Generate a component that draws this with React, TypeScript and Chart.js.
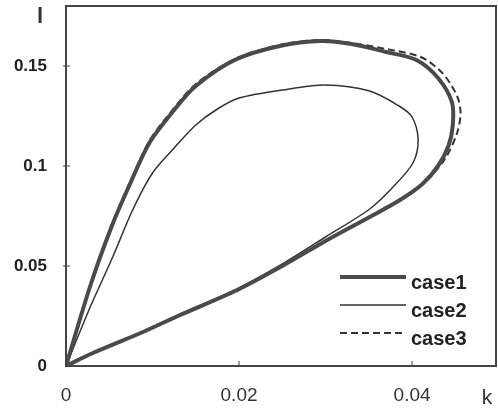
import React, { useEffect, useRef } from "react";
import { Chart, registerables } from "chart.js";

Chart.register(...registerables);

// ---- data ----
const xTicks = [0, 0.02, 0.04];
const xTickLabels = ["0", "0.02", "0.04"];
const yTicks = [0, 0.05, 0.1, 0.15];
const yTickLabels = ["0", "0.05", "0.1", "0.15"];
const xTitle = "k";
const yTitle = "l";
const seriesNames = ["case1", "case2", "case3"];

const case1K = [0, 0.0028, 0.0053, 0.0075, 0.0097, 0.0125, 0.015, 0.0195, 0.0247, 0.0295, 0.033, 0.037, 0.0405, 0.043, 0.0446, 0.0447, 0.0442, 0.043, 0.0412, 0.0386, 0.0351, 0.0302, 0.025, 0.0198, 0.0132, 0.0089, 0.0031, 0];
const case1L = [0, 0.04, 0.07, 0.092, 0.112, 0.128, 0.14, 0.153, 0.16, 0.1625, 0.161, 0.157, 0.153, 0.144, 0.132, 0.12, 0.11, 0.1, 0.091, 0.083, 0.0745, 0.063, 0.05, 0.038, 0.0255, 0.017, 0.0065, 0];

const case2K = [0, 0.0028, 0.0054, 0.0077, 0.01, 0.0125, 0.015, 0.0175, 0.02, 0.025, 0.03, 0.0351, 0.0385, 0.04, 0.0407, 0.0401, 0.0378, 0.0351, 0.03, 0.025, 0.0198, 0.0132, 0.0089, 0.0031, 0];
const case2L = [0, 0.0295, 0.0545, 0.078, 0.0965, 0.109, 0.1205, 0.1285, 0.134, 0.138, 0.1405, 0.1375, 0.13, 0.1245, 0.113, 0.1015, 0.0895, 0.0785, 0.0645, 0.051, 0.0385, 0.026, 0.0172, 0.0066, 0];

const case3K = [0, 0.0028, 0.0053, 0.0075, 0.0097, 0.0125, 0.015, 0.0195, 0.0247, 0.0295, 0.033, 0.037, 0.041, 0.0435, 0.0452, 0.0456, 0.0452, 0.0438, 0.0415, 0.0386, 0.0351, 0.0302, 0.025, 0.0198, 0.0132, 0.0089, 0.0031, 0];
const case3L = [0, 0.0405, 0.071, 0.093, 0.113, 0.129, 0.141, 0.1535, 0.1605, 0.163, 0.1615, 0.1585, 0.1545, 0.1465, 0.135, 0.1265, 0.1165, 0.1035, 0.092, 0.083, 0.0745, 0.063, 0.05, 0.038, 0.0255, 0.017, 0.0065, 0];

const toPoints = (xs: number[], ys: number[]) => xs.map((x, i) => ({ x, y: ys[i] }));

const decorPlugin = {
  id: "decor",
  afterDraw(chart: any) {
    const { ctx, chartArea, scales } = chart;
    const { left, right, top, bottom } = chartArea;
    ctx.save();
    // frame
    ctx.strokeStyle = "#444";
    ctx.lineWidth = 2;
    ctx.setLineDash([]);
    ctx.strokeRect(left, top, right - left, bottom - top);
    // inward ticks
    ctx.lineWidth = 1;
    yTicks.forEach((v) => {
      if (v === 0) return;
      const y = scales.y.getPixelForValue(v);
      ctx.beginPath();
      ctx.moveTo(left - 3, y);
      ctx.lineTo(left + 4, y);
      ctx.stroke();
    });
    xTicks.forEach((v) => {
      if (v === 0) return;
      const x = scales.x.getPixelForValue(v);
      ctx.beginPath();
      ctx.moveTo(x, bottom);
      ctx.lineTo(x, bottom - 5);
      ctx.stroke();
    });
    // axis titles
    ctx.fillStyle = "#333";
    ctx.textAlign = "center";
    ctx.textBaseline = "alphabetic";
    ctx.font = "bold 22px 'Liberation Sans', Arial, sans-serif";
    ctx.fillText(yTitle, left - 26, top + 17);
    ctx.font = "21px 'Liberation Sans', Arial, sans-serif";
    ctx.fillText(xTitle, right - 9, bottom + 38);
    // legend
    const rows = [bottom - 89, bottom - 61, bottom - 33];
    chart.data.datasets.forEach((ds: any, i: number) => {
      const y = rows[i];
      ctx.strokeStyle = ds.borderColor;
      ctx.lineWidth = ds.borderWidth;
      ctx.setLineDash(ds.borderDash || []);
      ctx.beginPath();
      ctx.moveTo(right - 156, y);
      ctx.lineTo(right - 90, y);
      ctx.stroke();
      ctx.setLineDash([]);
      ctx.fillStyle = "#222";
      ctx.textAlign = "left";
      ctx.font = "bold 20px 'Liberation Sans', Arial, sans-serif";
      ctx.fillText(ds.label, right - 85, y + 12);
    });
    ctx.restore();
  },
};

const zeroPad = (axis: any) => {
  axis.paddingTop = 0;
  axis.paddingBottom = 0;
  axis.paddingLeft = 0;
  axis.paddingRight = 0;
};

export default function App() {
  const ref = useRef<HTMLCanvasElement | null>(null);
  useEffect(() => {
    document.body.style.margin = "0";
    const canvas = ref.current;
    if (!canvas) return;
    const chart = new Chart(canvas, {
      type: "scatter",
      data: {
        datasets: [
          {
            label: seriesNames[0],
            data: toPoints(case1K, case1L),
            showLine: true,
            borderColor: "#4a4a4a",
            borderWidth: 4,
            pointRadius: 0,
            tension: 0.3,
          },
          {
            label: seriesNames[1],
            data: toPoints(case2K, case2L),
            showLine: true,
            borderColor: "#333",
            borderWidth: 1.5,
            pointRadius: 0,
            tension: 0.3,
          },
          {
            label: seriesNames[2],
            data: toPoints(case3K, case3L),
            showLine: true,
            borderColor: "#333",
            borderWidth: 2,
            borderDash: [7, 4],
            pointRadius: 0,
            tension: 0.3,
          },
        ],
      },
      options: {
        animation: false,
        responsive: false,
        maintainAspectRatio: false,
        layout: { padding: { top: 6, right: 2, left: 0, bottom: 0 } },
        plugins: { legend: { display: false }, tooltip: { enabled: false } },
        scales: {
          x: {
            type: "linear",
            min: 0,
            max: 0.0497,
            grid: { display: false, drawTicks: false },
            border: { display: false },
            afterBuildTicks: (axis: any) => {
              axis.ticks = xTicks.map((v) => ({ value: v }));
            },
            afterFit: (axis: any) => {
              axis.height = 44;
              zeroPad(axis);
            },
            ticks: {
              padding: 18,
              color: "#333",
              font: { family: "'Liberation Sans', Arial, sans-serif", size: 19 },
              callback: (v: any) => {
                const i = xTicks.indexOf(Number(v));
                return i >= 0 ? xTickLabels[i] : "";
              },
              maxRotation: 0,
            },
          },
          y: {
            type: "linear",
            min: 0,
            max: 0.18,
            grid: { display: false, drawTicks: false },
            border: { display: false },
            afterBuildTicks: (axis: any) => {
              axis.ticks = yTicks.map((v) => ({ value: v }));
            },
            afterFit: (axis: any) => {
              axis.width = 66;
              zeroPad(axis);
            },
            ticks: {
              padding: 19,
              color: "#222",
              font: { family: "'Liberation Sans', Arial, sans-serif", size: 17, weight: "bold" },
              callback: (v: any) => {
                const i = yTicks.indexOf(Number(v));
                return i >= 0 ? yTickLabels[i] : "";
              },
            },
          },
        },
      },
      plugins: [decorPlugin],
    } as any);
    return () => chart.destroy();
  }, []);
  return (
    <div style={{ width: 498, height: 410 }}>
      <canvas ref={ref} width={498} height={410} style={{ display: "block" }} />
    </div>
  );
}
